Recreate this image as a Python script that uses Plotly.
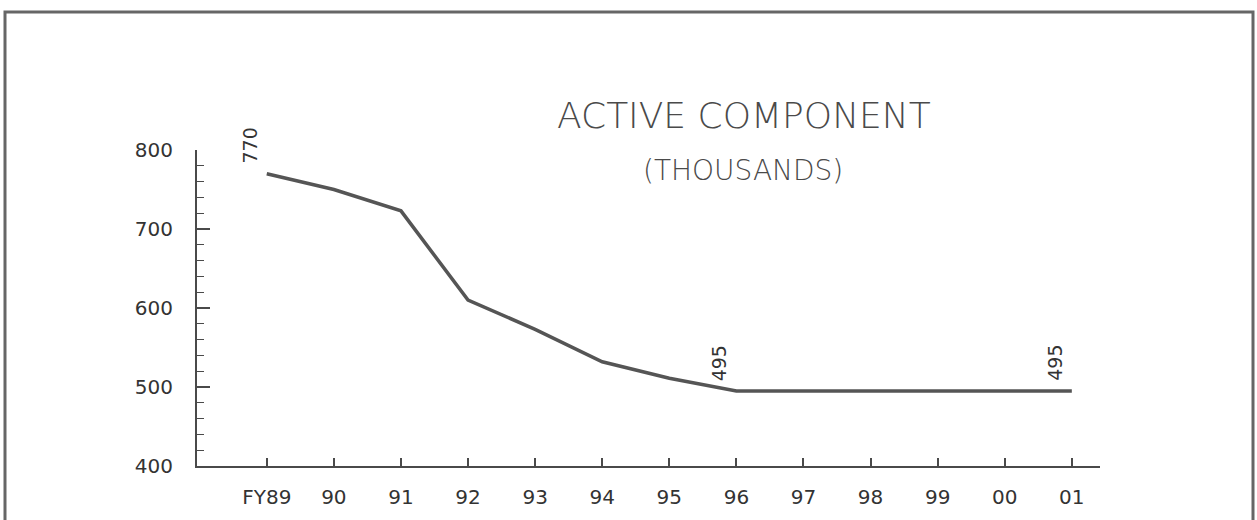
import plotly.graph_objects as go

categories = ["FY89", "90", "91", "92", "93", "94", "95", "96", "97", "98", "99", "00", "01"]
values = [770, 750, 723, 610, 573, 532, 511, 495, 495, 495, 495, 495, 495]
labeled_idx = [0, 7, 12]
y_ticks = [400, 500, 600, 700, 800]

x = list(range(len(categories)))
FONT = "DejaVu Sans"
GRAY = "#4a4a4a"

fig = go.Figure()
fig.add_trace(go.Scatter(
    x=x, y=values, mode="lines",
    line=dict(color="#555555", width=3.5),
    hoverinfo="skip", showlegend=False, cliponaxis=False,
))

L, R, T, B = 197, 157, 150, 54
pw, ph = 1257 - L - R, 520 - T - B

annotations = []
for i in labeled_idx:
    annotations.append(dict(
        x=x[i], y=values[i], xref="x", yref="y",
        text=str(values[i]), showarrow=False, textangle=-90,
        xanchor="center", yanchor="bottom", xshift=-17, yshift=8,
        font=dict(family=FONT, size=19, color="#333333"),
    ))
annotations.append(dict(
    x=(744 - L) / pw, y=(520 - 115 - B) / ph, xref="paper", yref="paper",
    xanchor="center", yanchor="middle",
    text="ACTIVE COMPONENT", showarrow=False,
    font=dict(family=FONT, size=36, color="#4a4a4a", weight=350),
))
annotations.append(dict(
    x=(743 - L) / pw, y=(520 - 170 - B) / ph, xref="paper", yref="paper",
    xanchor="center", yanchor="middle",
    text="(THOUSANDS)", showarrow=False,
    font=dict(family=FONT, size=28, color="#4a4a4a", weight=350),
))

fig.update_layout(
    width=1257, height=520,
    margin=dict(l=L, r=R, t=T, b=B),
    paper_bgcolor="white", plot_bgcolor="white",
    annotations=annotations,
    shapes=[dict(type="rect", xref="paper", yref="paper",
                 x0=(5 - L) / pw, x1=(1253 - L) / pw,
                 y0=(-10 - B) / ph, y1=(520 - 12 - B) / ph,
                 line=dict(color="#666666", width=3))],
    xaxis=dict(
        range=[-1.04, 12.42], tickvals=x, ticktext=categories,
        showgrid=False, zeroline=False, showline=True, linecolor=GRAY, linewidth=2,
        ticks="inside", ticklen=8, tickwidth=1.5, tickcolor=GRAY,
        tickfont=dict(family=FONT, size=20, color="#333333"),
        ticklabelstandoff=12, automargin=False,
    ),
    yaxis=dict(
        range=[400, 800], tickvals=y_ticks,
        showgrid=False, zeroline=False, showline=True, linecolor=GRAY, linewidth=2,
        ticks="inside", ticklen=13, tickwidth=1.5, tickcolor=GRAY,
        minor=dict(dtick=20, ticks="inside", ticklen=7, tickwidth=1.2, tickcolor=GRAY),
        tickfont=dict(family=FONT, size=20, color="#333333"),
        ticklabelstandoff=18, automargin=False,
    ),
)

fig.write_html("out.html", config={"displayModeBar": False},
               post_script="document.body.style.margin='0';")
